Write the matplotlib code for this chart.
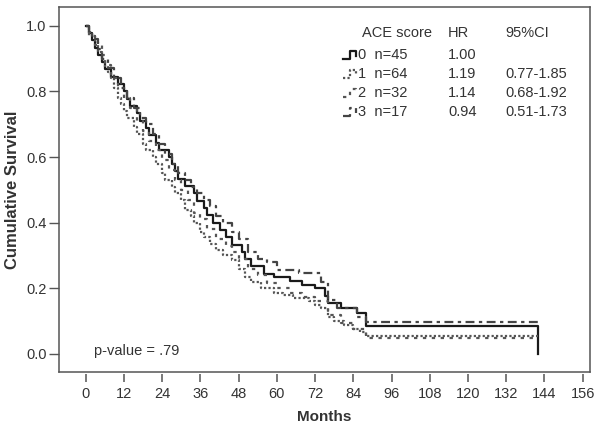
#!/usr/bin/env python
# -*- coding: utf-8 -*-

"""Kaplan-Meier survival by ACE score."""

import matplotlib.pyplot as plt
from matplotlib.lines import Line2D

# event times (months) and survival after each step
t0 = [0, 1, 2, 3, 4, 5, 6, 8, 10, 12, 13, 14, 16, 17, 19, 20, 22, 23, 26, 27,
      28, 29, 31, 34, 35, 37, 38, 40, 42, 44, 46, 49, 50, 52, 56, 59, 64, 68,
      72, 75, 76, 80, 85, 88, 142]
s0 = [1.0, 0.978, 0.956, 0.933, 0.911, 0.889, 0.867, 0.844, 0.822, 0.800,
      0.778, 0.756, 0.733, 0.711, 0.689, 0.667, 0.644, 0.622, 0.600, 0.578,
      0.556, 0.533, 0.511, 0.489, 0.467, 0.444, 0.422, 0.400, 0.378, 0.356,
      0.333, 0.311, 0.289, 0.267, 0.244, 0.233, 0.222, 0.211, 0.200, 0.178,
      0.156, 0.140, 0.124, 0.085, 0.0]

t1 = [0, 1, 2, 3, 4, 5, 6, 7, 8, 9, 10, 11, 12, 13, 15, 16, 18, 19, 21, 22,
      24, 25, 27, 28, 30, 31, 33, 34, 36, 37, 39, 41, 43, 46, 48, 50, 52, 55,
      59, 62, 65, 70, 72, 74, 76, 78, 81, 84, 86, 88, 142]
s1 = [1.0, 0.98, 0.97, 0.95, 0.92, 0.90, 0.875, 0.86, 0.84, 0.81, 0.78, 0.76,
      0.74, 0.72, 0.69, 0.67, 0.64, 0.62, 0.60, 0.58, 0.55, 0.53, 0.51, 0.49,
      0.47, 0.44, 0.42, 0.40, 0.37, 0.355, 0.335, 0.317, 0.30, 0.286, 0.26,
      0.235, 0.22, 0.20, 0.186, 0.18, 0.17, 0.16, 0.15, 0.14, 0.113, 0.10,
      0.088, 0.075, 0.067, 0.055, 0.055]

t2 = [0, 1, 3, 5, 6, 8, 10, 12, 14, 16, 18, 20, 22, 24, 26, 28, 30, 32, 34,
      36, 38, 41, 44, 46, 48, 51, 54, 57, 60, 64, 68, 72, 76, 80, 84, 88, 142]
s2 = [1.0, 0.97, 0.94, 0.91, 0.88, 0.84, 0.81, 0.78, 0.75, 0.71, 0.68, 0.65,
      0.62, 0.59, 0.56, 0.53, 0.50, 0.47, 0.43, 0.41, 0.38, 0.35, 0.33, 0.31,
      0.29, 0.26, 0.24, 0.216, 0.20, 0.186, 0.175, 0.16, 0.12, 0.095, 0.075,
      0.05, 0.05]

t3 = [0, 1, 2, 4, 5, 7, 9, 11, 13, 15, 17, 19, 21, 23, 25, 27, 29, 31, 33,
      35, 37, 39, 41, 43, 46, 48, 51, 54, 57, 60, 67, 74, 76, 79, 85, 88, 142]
s3 = [1.0, 0.98, 0.96, 0.93, 0.90, 0.87, 0.84, 0.81, 0.78, 0.75, 0.72, 0.70,
      0.67, 0.64, 0.61, 0.58, 0.55, 0.53, 0.51, 0.49, 0.47, 0.45, 0.42, 0.40,
      0.37, 0.35, 0.31, 0.29, 0.28, 0.256, 0.246, 0.22, 0.165, 0.14, 0.113,
      0.098, 0.098]

groups = ["0", "1", "2", "3"]
ns = [45, 64, 32, 17]
hrs = ["1.00", "1.19", "1.14", "0.94"]
cis = ["", "0.77-1.85", "0.68-1.92", "0.51-1.73"]
xticks = list(range(0, 157, 12))
yticks = [0.0, 0.2, 0.4, 0.6, 0.8, 1.0]


def main():
    plt.rcParams["font.family"] = ["Liberation Sans", "DejaVu Sans"]
    fig = plt.figure(figsize=(6.02, 4.29), dpi=100)
    ax = fig.add_axes([59 / 602, 57 / 429, 531 / 602, 365 / 429])

    styles = [
        dict(color="#1a1a1a", lw=1.6, ls="-"),
        dict(color="#555555", lw=1.6, ls=(0, (1, 1))),
        dict(color="#555555", lw=1.6, ls=(0, (1.5, 2.5))),
        dict(color="#444444", lw=1.6, ls=(0, (4, 2, 1.5, 2))),
    ]
    for t, s, st in zip([t0, t1, t2, t3], [s0, s1, s2, s3], styles):
        ax.plot(t, s, drawstyle="steps-post", **st)

    ax.set_xlim(-8.4, 158.3)
    ax.set_ylim(-0.055, 1.057)
    ax.set_yticks(yticks)
    ax.set_yticklabels(["%.1f" % v for v in yticks], fontsize=10.5, color="#333333")
    ax.tick_params(axis="y", direction="out", length=7, width=1, color="#555555",
                   pad=2)
    ax.set_xticks([])
    for sp in ax.spines.values():
        sp.set_color("#555555")
        sp.set_linewidth(1.1)

    sec = ax.secondary_xaxis(-0.006)
    sec.spines["bottom"].set_visible(False)
    sec.set_xticks(xticks)
    sec.set_xticklabels([str(v) for v in xticks], fontsize=10.5, color="#333333")
    sec.tick_params(direction="out", length=6, width=1.1, color="#555555", pad=3)
    sec.set_xlabel("Months", fontsize=11, fontweight="bold", color="#333333",
                   labelpad=7)
    ax.set_ylabel("Cumulative Survival", fontsize=12, fontweight="bold",
                  color="#333333", labelpad=4)

    ax.text(2.5, 0.01, "p-value = .79", fontsize=10.5, color="#333333",
            va="center")

    # legend table (figure pixel positions)
    def px(x, y):
        return x / 602, 1 - y / 429

    tkw = dict(fontsize=10.5, color="#333333", va="center",
               transform=fig.transFigure)
    fig.text(*px(362, 33), "ACE score", **tkw)
    fig.text(*px(448, 33), "HR", **tkw)
    fig.text(*px(505, 33), "95%CI", **tkw)
    for i in range(4):
        y = 55 + 19 * i
        fig.text(*px(358, y), "%s  n=%d" % (groups[i], ns[i]), **tkw)
        fig.text(*px(448, y), hrs[i], **tkw)
        fig.text(*px(505, y), cis[i], **tkw)
        xs = [343 / 602, 350 / 602, 350 / 602, 356 / 602, 356 / 602]
        ys = [1 - (y + 4) / 429, 1 - (y + 4) / 429, 1 - (y - 4) / 429,
              1 - (y - 4) / 429, 1 - (y + 1) / 429]
        fig.add_artist(Line2D(xs, ys, transform=fig.transFigure, **styles[i]))

    fig.savefig("out.png", dpi=100)
    plt.close()


if __name__ == "__main__":
    main()
